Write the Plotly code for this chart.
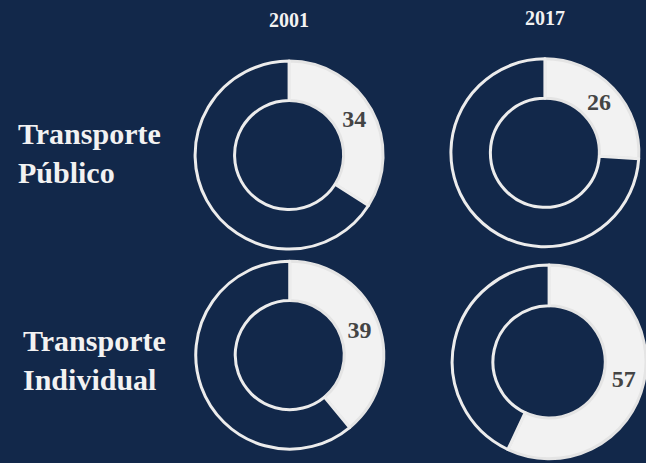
import plotly.graph_objects as go

years = ["2001", "2017"]
modes = ["Transporte<br>Público", "Transporte<br>Individual"]
shares = [[34, 26], [39, 57]]  # rows: modes, cols: years

BG = "#12284a"
LIGHT = "#f2f2f2"
SERIF = "Liberation Serif"

# domains (x, y) for each cell [row][col]
domains = [
    [dict(x=[0.302, 0.593], y=[0.462, 0.868]), dict(x=[0.698, 0.989], y=[0.467, 0.873])],
    [dict(x=[0.303, 0.594], y=[0.030, 0.436]), dict(x=[0.700, 1.000], y=[0.009, 0.428])],
]

fig = go.Figure()
for r, mode in enumerate(modes):
    for c, yr in enumerate(years):
        v = shares[r][c]
        fig.add_trace(go.Pie(
            values=[v, 100 - v],
            labels=[f"{mode} {yr}", "Otros"],
            text=[str(v), ""],
            textinfo="text",
            textposition="inside",
            insidetextorientation="horizontal",
            textfont=dict(family=SERIF, size=24, color="#444444", weight="bold"),
            hole=0.58,
            sort=False,
            direction="clockwise",
            rotation=0,
            marker=dict(colors=[LIGHT, BG], line=dict(color=["#e4e4e4", "#ececec"], width=3)),
            domain=domains[r][c],
            showlegend=False,
            hoverinfo="label+value",
        ))

annotations = []
header_pos = [(0.447, 0.957), (0.844, 0.961)]
for yr, (x, y) in zip(years, header_pos):
    annotations.append(dict(text=f"<b>{yr}</b>", x=x, y=y, xref="paper", yref="paper",
                            xanchor="center", yanchor="middle", showarrow=False,
                            font=dict(family=SERIF, size=20, color="#f2f2f2")))
row_pos = [(0.024, 0.670), (0.033, 0.222)]
for mode, (x, y) in zip(modes, row_pos):
    annotations.append(dict(text=f"<b>{mode}</b>", x=x, y=y, xref="paper", yref="paper",
                            xanchor="left", yanchor="middle", align="left", showarrow=False,
                            font=dict(family=SERIF, size=30, color="#f2f2f2")))

fig.update_layout(
    width=646, height=463,
    margin=dict(l=0, r=0, t=0, b=0),
    paper_bgcolor=BG, plot_bgcolor=BG,
    annotations=annotations,
)
fig.write_html("out.html")
